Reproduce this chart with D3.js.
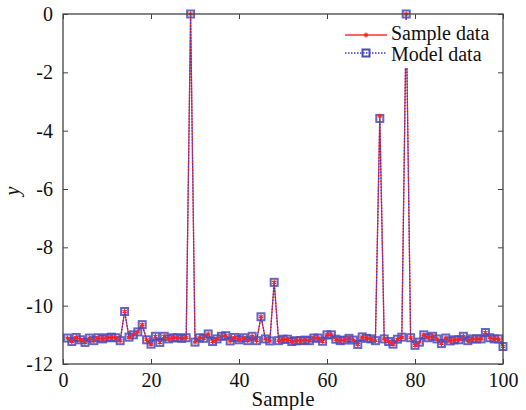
<!DOCTYPE html>
<html>
<head>
<meta charset="utf-8">
<script src="https://cdn.jsdelivr.net/npm/d3@7"></script>
<style>
  body { margin: 0; background: #fff; }
  svg text { font-family: "Liberation Serif", "Times New Roman", "DejaVu Serif", serif; }
</style>
</head>
<body>
<div id="chart"></div>
<script>
var margin = { top: 14, right: 23, bottom: 46, left: 63 },
    width = 526 - margin.left - margin.right,
    height = 410 - margin.top - margin.bottom;

var serif = "'Liberation Serif', 'Times New Roman', 'DejaVu Serif', serif";

// samples 1..100
var sampleIdx = d3.range(1, 101);
var sampleData = [
  -11.11, -11.23, -11.09, -11.17, -11.26, -11.11, -11.20, -11.10, -11.14, -11.10,
  -11.08, -11.10, -11.20, -10.20, -11.08, -11.00, -10.90, -10.65, -11.17, -11.32,
  -11.05, -11.26, -11.05, -11.14, -11.10, -11.10, -11.12, -11.10, 0.00, -11.25,
  -11.10, -11.12, -10.97, -11.23, -11.14, -11.05, -11.03, -11.21, -11.09, -11.17,
  -11.10, -11.20, -11.05, -11.20, -10.38, -11.14, -11.21, -9.20, -11.20, -11.15,
  -11.15, -11.23, -11.20, -11.20, -11.18, -11.20, -11.11, -11.11, -11.22, -11.00,
  -11.00, -11.15, -11.20, -11.18, -11.12, -11.18, -11.33, -11.07, -11.12, -11.14,
  -11.20, -3.50, -11.14, -11.23, -11.32, -11.15, -11.08, 0.00, -11.10, -11.36,
  -11.25, -11.00, -11.10, -11.05, -11.14, -11.30, -11.11, -11.21, -11.17, -11.17,
  -11.05, -11.20, -11.14, -11.14, -11.14, -10.92, -11.10, -11.14, -11.14, -11.40
];
var modelData = [
  -11.11, -11.23, -11.09, -11.17, -11.26, -11.11, -11.20, -11.10, -11.14, -11.10,
  -11.08, -11.10, -11.20, -10.20, -11.08, -11.00, -10.90, -10.65, -11.17, -11.32,
  -11.05, -11.26, -11.05, -11.14, -11.10, -11.10, -11.12, -11.10, 0.00, -11.25,
  -11.10, -11.12, -10.97, -11.23, -11.14, -11.05, -11.03, -11.21, -11.09, -11.17,
  -11.10, -11.20, -11.05, -11.20, -10.38, -11.14, -11.21, -9.20, -11.20, -11.15,
  -11.15, -11.23, -11.20, -11.20, -11.18, -11.20, -11.11, -11.11, -11.22, -11.00,
  -11.00, -11.15, -11.20, -11.18, -11.12, -11.18, -11.33, -11.07, -11.12, -11.14,
  -11.20, -3.58, -11.14, -11.23, -11.32, -11.15, -11.08, 0.00, -11.10, -11.36,
  -11.25, -11.00, -11.10, -11.05, -11.14, -11.30, -11.11, -11.21, -11.17, -11.17,
  -11.05, -11.20, -11.14, -11.14, -11.14, -10.92, -11.10, -11.14, -11.14, -11.40
];
var xTicks = [0, 20, 40, 60, 80, 100];
var yTicks = [-12, -10, -8, -6, -4, -2, 0];
var seriesNames = ["Sample data", "Model data"];

var svg = d3.select("#chart").append("svg")
    .attr("width", 526)
    .attr("height", 410)
  .append("g")
    .attr("transform", "translate(" + margin.left + "," + margin.top + ")");

var x = d3.scaleLinear().domain([0, 100]).range([0, width]);
var y = d3.scaleLinear().domain([-12, 0]).range([height, 0]);

var axisColor = "#444";
var plainFmt = function(d) { return String(d); };  // keep the hyphen minus

// axes with inward ticks on all sides
function styleAxis(g) {
  g.attr("font-family", serif).attr("font-size", 20);
  g.select(".domain").remove();
  g.selectAll(".tick line").attr("stroke", axisColor);
  g.selectAll(".tick text").attr("fill", "#111");
}

svg.append("g")
    .attr("transform", "translate(0," + height + ")")
    .call(d3.axisBottom(x).tickValues(xTicks).tickSize(-5).tickPadding(4).tickFormat(plainFmt))
    .call(styleAxis)
    .selectAll(".tick text").attr("dy", "0.95em");

svg.append("g")
    .call(d3.axisTop(x).tickValues(xTicks).tickSize(-5).tickFormat(""))
    .call(styleAxis);

svg.append("g")
    .call(d3.axisLeft(y).tickValues(yTicks).tickSize(-5).tickPadding(10).tickFormat(plainFmt))
    .call(styleAxis);

svg.append("g")
    .attr("transform", "translate(" + width + ",0)")
    .call(d3.axisRight(y).tickValues(yTicks).tickSize(-5).tickFormat(""))
    .call(styleAxis);

var line = d3.line()
    .x(function(d, i) { return x(sampleIdx[i]); })
    .y(function(d) { return y(d); });

// sample data: red solid line + asterisk
svg.append("path")
    .datum(sampleData)
    .attr("fill", "none")
    .attr("stroke", "#ff3030")
    .attr("stroke-width", 1.3)
    .attr("d", line);

// model data: blue dotted line + squares
svg.append("path")
    .datum(modelData)
    .attr("fill", "none")
    .attr("stroke", "#3a3ad0")
    .attr("stroke-width", 1.3)
    .attr("stroke-dasharray", "1.5,1.5")
    .attr("d", line);

var star = d3.symbol().type(d3.symbolAsterisk).size(16);

svg.selectAll(".square")
    .data(modelData)
    .enter().append("rect")
    .attr("class", "square")
    .attr("x", function(d, i) { return x(sampleIdx[i]) - 3.5; })
    .attr("y", function(d) { return y(d) - 3.5; })
    .attr("width", 7)
    .attr("height", 7)
    .attr("fill", "none")
    .attr("stroke", "#4a4ab8")
    .attr("stroke-opacity", 0.85)
    .attr("stroke-width", 2);

svg.selectAll(".star")
    .data(sampleData)
    .enter().append("path")
    .attr("class", "star")
    .attr("transform", function(d, i) { return "translate(" + x(sampleIdx[i]) + "," + y(d) + ")"; })
    .attr("d", star)
    .attr("fill", "none")
    .attr("stroke", "#ff2020")
    .attr("stroke-width", 1.2);

// frame
svg.append("rect")
    .attr("width", width)
    .attr("height", height)
    .attr("fill", "none")
    .attr("stroke", axisColor)
    .attr("stroke-width", 1.3);

// legend
var legend = svg.append("g")
    .attr("transform", "translate(" + (345 - margin.left) + "," + (20 - margin.top) + ")");

legend.append("rect")
    .attr("x", 0).attr("y", 0)
    .attr("width", 152).attr("height", 48)
    .attr("fill", "#fff");

legend.append("line")
    .attr("x1", 0).attr("x2", 42).attr("y1", 15).attr("y2", 15)
    .attr("stroke", "#ff3030").attr("stroke-width", 1.3);
legend.append("path")
    .attr("transform", "translate(21,15)")
    .attr("d", star)
    .attr("fill", "none").attr("stroke", "#ff2020").attr("stroke-width", 1.2);

legend.append("line")
    .attr("x1", 0).attr("x2", 42).attr("y1", 33).attr("y2", 33)
    .attr("stroke", "#3a3ad0").attr("stroke-width", 1.3)
    .attr("stroke-dasharray", "1.5,1.5");
legend.append("rect")
    .attr("x", 17.5).attr("y", 29.5).attr("width", 7).attr("height", 7)
    .attr("fill", "none").attr("stroke", "#4a4ab8").attr("stroke-width", 2);

legend.selectAll(".legend-text")
    .data(seriesNames)
    .enter().append("text")
    .attr("class", "legend-text")
    .attr("x", 46)
    .attr("y", function(d, i) { return 20 + i * 21; })
    .attr("font-family", serif)
    .attr("font-size", 20)
    .attr("fill", "#111")
    .text(function(d) { return d; });

// axis titles
svg.append("text")
    .attr("x", width / 2)
    .attr("y", height + 42)
    .attr("text-anchor", "middle")
    .attr("font-family", serif)
    .attr("font-size", 21)
    .attr("fill", "#111")
    .text("Sample");

svg.append("text")
    .attr("transform", "translate(" + (-44) + "," + (height / 2 + 2) + ") rotate(-90)")
    .attr("text-anchor", "middle")
    .attr("font-family", serif)
    .attr("font-size", 20)
    .attr("font-style", "italic")
    .attr("fill", "#111")
    .text("y");
</script>
</body>
</html>
